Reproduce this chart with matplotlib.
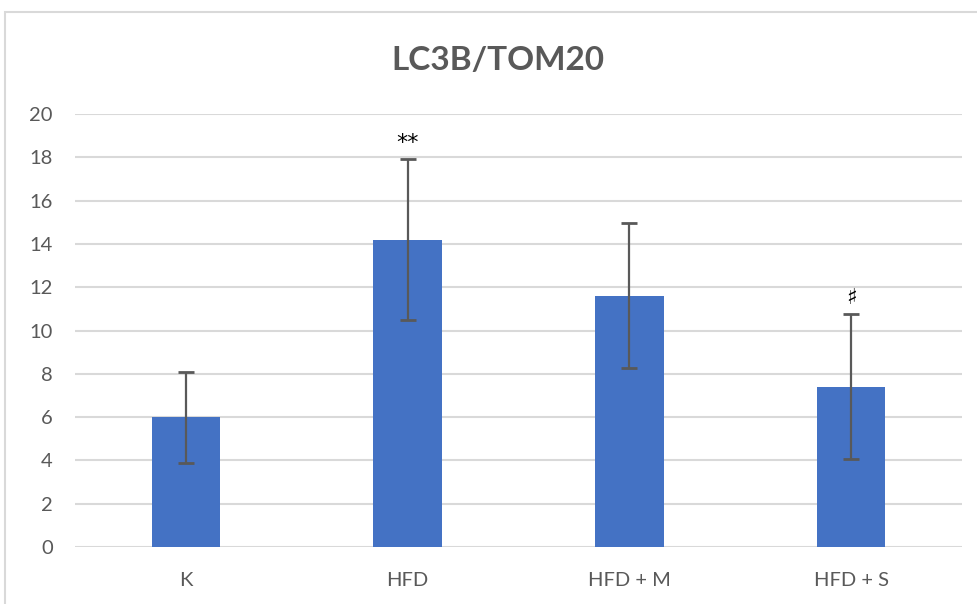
import numpy as np
import matplotlib.pyplot as plt
from matplotlib.patches import Rectangle

plt.rcParams['font.family'] = ['Lato', 'DejaVu Sans']

groups = ["K", "HFD", "HFD + M", "HFD + S"]
means = [6.0, 14.2, 11.6, 7.4]
errors = [2.1, 3.7, 3.35, 3.35]
marks = ["", "**", "", "\u266f"]

BLUE = "#4472C4"
GREY = "#595959"
GRID = "#D9D9D9"

fig = plt.figure(figsize=(9.78, 6.04), dpi=100, facecolor="white")

# outer chart frame (runs past the right and bottom edges)
fig.patches.append(Rectangle((5 / 978, -0.05), 1.2, 1 - 12 / 604 + 0.05,
                             transform=fig.transFigure, fill=False,
                             edgecolor=GRID, linewidth=1.5))

ax = fig.add_axes([75 / 978, 1 - 547 / 604, 887 / 978, 433 / 604])
x = np.arange(len(groups))
ax.bar(x, means, width=0.31, color=BLUE, zorder=2)
ax.errorbar(x, means, yerr=errors, fmt="none", ecolor=GREY,
            elinewidth=1.6, capsize=6, capthick=2, zorder=3)

for xi, m, e, s in zip(x, means, errors, marks):
    if s:
        ax.text(xi, m + e + 0.3, s, ha="center", va="bottom",
                fontsize=16, color="black", family=["DejaVu Sans"])

ax.set_xlim(-0.5, len(groups) - 0.5)
ax.set_ylim(0, 20)
ax.set_yticks(np.arange(0, 21, 2))
ax.set_xticks(x)
ax.set_xticklabels(groups)
ax.yaxis.grid(True, color=GRID, linewidth=1.5, zorder=0)
ax.set_axisbelow(True)
for side in ["top", "right", "left", "bottom"]:
    ax.spines[side].set_visible(False)
ax.tick_params(length=0, labelsize=14.5, colors=GREY)
ax.tick_params(axis="y", pad=16)
ax.tick_params(axis="x", pad=18)

fig.text(498 / 978, 1 - 60 / 604, "LC3B/TOM20", ha="center", va="center",
         fontsize=24, fontweight="bold", color=GREY)

fig.savefig("out.png", dpi=100, facecolor="white")
